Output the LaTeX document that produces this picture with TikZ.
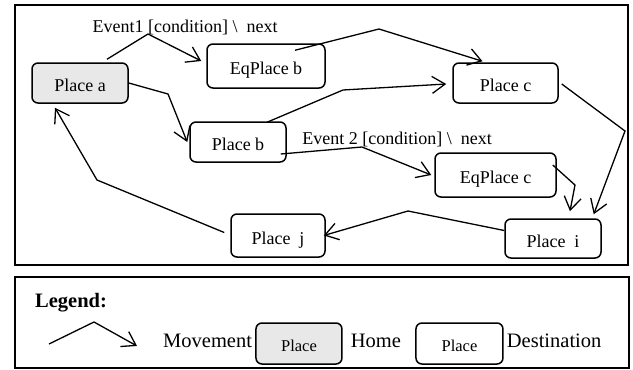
\documentclass[tikz,border=0pt]{standalone}
\usepackage{fontspec}
\setmainfont{Liberation Serif}
\usetikzlibrary{arrows.meta,calc,positioning}

\begin{document}
\begin{tikzpicture}[x=1pt,y=-1pt,>={Straight Barb[length=13pt,width=17pt]},
	place/.style={draw,line width=1.5pt,rounded corners=6pt,inner sep=0pt,
		text height=17pt,text depth=0pt,font=\fontsize{18}{20}\selectfont},
	home/.style={place,fill=gray!18},
	move/.style={line width=1.3pt,->},
	panel/.style={draw,line width=1.5pt},
	lbl/.style={inner sep=0pt,font=\fontsize{20.5}{22}\selectfont}]

	\useasboundingbox (0,0) rectangle (633,370);

	% Draw the two frames
	\draw[panel] (15,5) rectangle (628,265);
	\draw[panel] (15,277) rectangle (629,368);

	% Draw the places
	\node[home,minimum width=96pt,minimum height=40pt] (pa) at (80,83) {Place a};
	\node[place,minimum width=118pt,minimum height=44pt] (eqb) at (266,66) {EqPlace b};
	\node[place,minimum width=96pt,minimum height=40pt] (pb) at (238,142) {Place b};
	\node[place,minimum width=105pt,minimum height=40pt] (pc) at (505.5,83) {Place c\hspace{10pt}};
	\node[place,minimum width=121pt,minimum height=44pt] (eqc) at (495.5,175) {EqPlace c};
	\node[place,minimum width=96pt,minimum height=39pt] (pi) at (553,238.5) {Place\ \ i};
	\node[place,minimum width=94pt,minimum height=43pt] (pj) at (278,235.5) {Place\ \ j};

	% Event labels
	\node[font=\fontsize{18}{20}\selectfont] (ev1) at (185,27) {Event1 [condition] \textbackslash\ \ next};
	\node[font=\fontsize{18}{20}\selectfont] (ev2) at (397,139) {Event 2 [condition] \textbackslash\ \ next};

	% Bend points of the movements
	\coordinate (b1) at (148,34);
	\coordinate (b2) at (168,94);
	\coordinate (b3) at (379,29);
	\coordinate (b4) at (343,90);
	\coordinate (b5) at (362,147);
	\coordinate (b6) at (575,185);
	\coordinate (b7) at (625,131);
	\coordinate (b8) at (408,211);
	\coordinate (b9) at (97,180);

	% Draw the movements
	\draw[move] ($(pa.north)+(27,-3)$) -- (b1) -- ($(eqb.west)+(-5,-5)$);
	\draw[move] (pa.east) -- (b2) -- ($(pb.west)+(-2,0)$);
	\draw[move] ($(eqb.north)+(29,7)$) -- (b3) -- ($(pc.north)+(-23,-1)$);
	\draw[move] ($(pb.north)+(29,1)$) -- (b4) -- ($(pc.west)+(-6,1)$);
	\draw[move] ($(pb.east)+(-6,12)$) -- (b5) -- ($(eqc.west)+(-3,0)$);
	\draw[move] ($(eqc.east)+(-4,-10)$) -- (b6) -- ($(pi.north)+(17,-7)$);
	\draw[move] ($(pc.east)+(3,1)$) -- (b7) -- ($(pi.north east)+(-8,-4)$);
	\draw[move] ($(pi.west)+(0,-8)$) -- (b8) -- ($(pj.east)+(-2,0)$);
	\draw[move] ($(pj.west)+(-6,-3)$) -- (b9) -- ($(pa.south)+(-25,4)$);

	% Legend
	\node[lbl,font=\fontsize{20.5}{22}\selectfont\bfseries,anchor=west] (leg) at (35,303) {Legend:};
	\coordinate (m0) at (49,344);
	\coordinate (m1) at (94,322);
	\coordinate (m2) at (137,346);
	\draw[move] (m0) -- (m1) -- (m2);
	\node[lbl,anchor=west] (mv) at (163,341) {Movement};
	\node[home,minimum width=86pt,minimum height=41pt,text height=15pt,
		font=\fontsize{16.5}{18}\selectfont,right=3pt of mv,yshift=-2.5pt] (lh) {Place};
	\node[lbl,right=8pt of lh,yshift=2.5pt] (hm) {Home};
	\node[place,minimum width=87pt,minimum height=41pt,text height=15pt,
		font=\fontsize{16.5}{18}\selectfont,right=14pt of hm,yshift=-2.5pt] (ld) {Place};
	\node[lbl,right=3pt of ld,yshift=2.5pt] (ds) {Destination};

\end{tikzpicture}
\end{document}
